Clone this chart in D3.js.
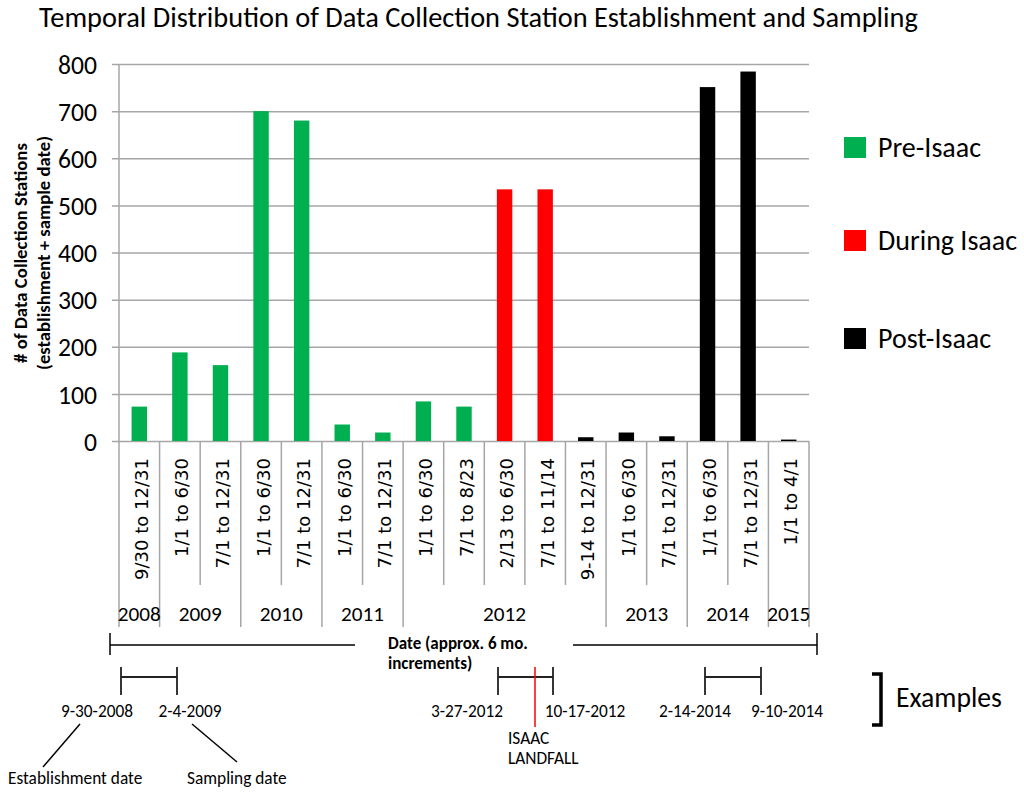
<!DOCTYPE html>
<html>
<head>
<meta charset="utf-8">
<script src="https://cdn.jsdelivr.net/npm/d3@7"></script>
<style>
  body { margin: 0; background: #fff; }
  svg { display: block; }
</style>
</head>
<body>
<svg id="chart" width="1024" height="794"></svg>
<script>
// ---------- data ----------
const categories = [
  "9/30 to 12/31", "1/1 to 6/30", "7/1 to 12/31", "1/1 to 6/30", "7/1 to 12/31",
  "1/1 to 6/30", "7/1 to 12/31", "1/1 to 6/30", "7/1 to 8/23", "2/13 to 6/30",
  "7/1 to 11/14", "9-14 to 12/31", "1/1 to 6/30", "7/1 to 12/31", "1/1 to 6/30",
  "7/1 to 12/31", "1/1 to 4/1"
];
const stations = [73, 188, 161, 700, 680, 35, 18, 84, 73, 534, 534, 8, 18, 10, 751, 784, 3];
const periodOf = [
  "Pre-Isaac", "Pre-Isaac", "Pre-Isaac", "Pre-Isaac", "Pre-Isaac", "Pre-Isaac",
  "Pre-Isaac", "Pre-Isaac", "Pre-Isaac", "During Isaac", "During Isaac",
  "Post-Isaac", "Post-Isaac", "Post-Isaac", "Post-Isaac", "Post-Isaac", "Post-Isaac"
];
// year groups: first and last category index (end exclusive)
const yearLabels = ["2008", "2009", "2010", "2011", "2012", "2013", "2014", "2015"];
const yearStart  = [0, 1, 3, 5, 7, 12, 14, 16];
const yearEnd    = [1, 3, 5, 7, 12, 14, 16, 17];
const yTicks = [0, 100, 200, 300, 400, 500, 600, 700, 800];
const legendLabels = ["Pre-Isaac", "During Isaac", "Post-Isaac"];
const legendColors = ["#00b050", "#ff0000", "#000000"];
const exampleDates = [["9-30-2008", "2-4-2009"], ["3-27-2012", "10-17-2012"], ["2-14-2014", "9-10-2014"]];

const titleText = "Temporal Distribution of Data Collection Station Establishment and Sampling";
const yTitle = ["# of Data Collection Stations", "(establishment + sample date)"];
const xTitle = ["Date (approx. 6 mo.", "increments)"];

// ---------- setup ----------
const svg = d3.select("#chart");
const CAL = "Carlito, Calibri, Lato, 'Open Sans', sans-serif";
const GRID = "#a6a6a6";

// scale a text's font-size so its width hits a target (Calibri stand-in)
function fitWidth(sel, target) {
  const w = sel.node().getComputedTextLength();
  const fs = parseFloat(sel.attr("font-size"));
  if (w > 0) sel.attr("font-size", (fs * target / w).toFixed(2));
  return parseFloat(sel.attr("font-size"));
}

const plot = { left: 119, right: 809, top: 64, bottom: 441 };

const x = d3.scaleBand()
  .domain(d3.range(categories.length))
  .range([plot.left, plot.right])
  .paddingInner(0.62)
  .paddingOuter(0.31);
const step = x.step();
const edge = (i) => plot.left + i * step;

const y = d3.scaleLinear().domain([0, 800]).range([plot.bottom, plot.top]);

const color = d3.scaleOrdinal().domain(legendLabels).range(legendColors);

// ---------- title ----------
const title = svg.append("text")
  .attr("x", 39).attr("y", 27)
  .attr("font-family", CAL).attr("font-size", 24)
  .attr("fill", "#000")
  .text(titleText);
fitWidth(title, 879);

// ---------- gridlines + y axis ----------
const yAxis = d3.axisLeft(y)
  .tickValues(yTicks)
  .tickSize(plot.right - plot.left + 7)
  .tickFormat(d3.format("d"));

const gy = svg.append("g")
  .attr("transform", `translate(${plot.right},0)`)
  .call(yAxis);
gy.select(".domain").remove();
gy.selectAll(".tick line").attr("stroke", GRID).attr("stroke-width", 1.5);
gy.selectAll(".tick text")
  .attr("x", -(plot.right - 97))
  .attr("dy", "0.36em")
  .attr("font-family", CAL)
  .attr("font-size", 23)
  .attr("fill", "#000");
const tickSize = fitWidth(gy.selectAll(".tick text").filter(d => d === 800), 39);
gy.selectAll(".tick text").attr("font-size", tickSize);

svg.append("line")
  .attr("x1", plot.left).attr("x2", plot.left)
  .attr("y1", plot.top).attr("y2", plot.bottom)
  .attr("stroke", GRID).attr("stroke-width", 1.5);

// ---------- bars ----------
svg.append("g").selectAll("rect")
  .data(stations)
  .join("rect")
  .attr("x", (d, i) => x(i))
  .attr("width", x.bandwidth())
  .attr("y", d => y(d))
  .attr("height", d => y(0) - y(d))
  .attr("fill", (d, i) => color(periodOf[i]));

// ---------- category axis (two levels) ----------
const isYearEdge = new Set([...yearStart, ...yearEnd]);
svg.append("g").selectAll("line")
  .data(d3.range(categories.length + 1))
  .join("line")
  .attr("x1", i => edge(i)).attr("x2", i => edge(i))
  .attr("y1", plot.bottom)
  .attr("y2", i => isYearEdge.has(i) ? 627 : 585)
  .attr("stroke", GRID).attr("stroke-width", 1.5);

const catText = svg.append("g").selectAll("text")
  .data(categories)
  .join("text")
  .attr("transform", (d, i) => `translate(${x(i) + x.bandwidth() / 2 + 2},458) rotate(-90)`)
  .attr("dy", "0.36em")
  .attr("text-anchor", "end")
  .attr("font-family", "'DejaVu Sans', Verdana, sans-serif")
  .attr("font-size", 16)
  .attr("fill", "#000")
  .text(d => d);
const catSize = fitWidth(catText.filter((d, i) => i === 0), 122);
catText.attr("font-size", catSize);

const yearText = svg.append("g").selectAll("text")
  .data(yearLabels)
  .join("text")
  .attr("x", (d, i) => (edge(yearStart[i]) + edge(yearEnd[i])) / 2)
  .attr("y", 613)
  .attr("dy", "0.36em")
  .attr("text-anchor", "middle")
  .attr("font-family", CAL)
  .attr("font-size", 20)
  .attr("fill", "#000")
  .text(d => d);
const yearSize = fitWidth(yearText.filter(d => d === "2012"), 43);
yearText.attr("font-size", yearSize);

// ---------- y title ----------
const yt = svg.append("g").attr("font-family", CAL).attr("font-weight", "bold").attr("fill", "#000");
[20, 43].forEach((cx, k) => {
  const t = yt.append("text")
    .attr("transform", `translate(${cx},253) rotate(-90)`)
    .attr("dy", "0.36em")
    .attr("text-anchor", "middle")
    .attr("font-size", 15)
    .text(yTitle[k]);
  fitWidth(t, k === 0 ? 220 : 234);
});

// ---------- legend ----------
const legend = svg.append("g");
const legendY = [147, 240, 338];
legendLabels.forEach((lab, i) => {
  legend.append("rect")
    .attr("x", 844).attr("y", legendY[i] - 10)
    .attr("width", 22).attr("height", 21)
    .attr("fill", legendColors[i]);
  const t = legend.append("text")
    .attr("x", 878).attr("y", legendY[i])
    .attr("dy", "0.36em")
    .attr("font-family", CAL).attr("font-size", 26)
    .attr("fill", "#000")
    .text(lab);
  if (i === 1) fitWidth(t, 139);
});
const legSize = legend.selectAll("text").filter((d, i) => i === 1).attr("font-size");
legend.selectAll("text").attr("font-size", legSize);

// ---------- date range bar ----------
const ann = svg.append("g").attr("stroke", "#000").attr("stroke-width", 1.5).attr("fill", "none");
ann.append("line").attr("x1", 110).attr("x2", 355).attr("y1", 645).attr("y2", 645);
ann.append("line").attr("x1", 573).attr("x2", 817).attr("y1", 645).attr("y2", 645);
ann.append("line").attr("x1", 110).attr("x2", 110).attr("y1", 633).attr("y2", 655);
ann.append("line").attr("x1", 817).attr("x2", 817).attr("y1", 633).attr("y2", 655);

const xt = svg.append("g").attr("font-family", CAL).attr("font-weight", "bold").attr("fill", "#000");
const xt0 = xt.append("text").attr("x", 388).attr("y", 643).attr("dy", "0.36em")
  .attr("font-size", 15).text(xTitle[0]);
const xtSize = fitWidth(xt0, 140);
xt.append("text").attr("x", 388).attr("y", 663).attr("dy", "0.36em")
  .attr("font-size", xtSize).text(xTitle[1]);

// ---------- examples ----------
const exLeft  = [121, 498, 705];
const exRight = [177, 553, 761];
const exLabelX = [[97, 190], [467, 585], [695, 787]];
const ex = svg.append("g");
let exSize = 16;
exampleDates.forEach((pair, i) => {
  ex.append("path")
    .attr("d", `M${exLeft[i]},667V695M${exLeft[i]},677H${exRight[i]}M${exRight[i]},667V695`)
    .attr("stroke", "#222").attr("stroke-width", 1.8).attr("fill", "none");
  pair.forEach((lab, k) => {
    const t = ex.append("text")
      .attr("x", exLabelX[i][k]).attr("y", 711)
      .attr("dy", "0.36em")
      .attr("text-anchor", "middle")
      .attr("font-family", CAL).attr("font-size", exSize)
      .attr("fill", "#000")
      .text(lab);
    if (i === 0 && k === 0) exSize = fitWidth(t, 72);
  });
});
ex.selectAll("text").attr("font-size", exSize);

// Isaac landfall marker
ex.append("line")
  .attr("x1", 535).attr("x2", 535).attr("y1", 667).attr("y2", 727)
  .attr("stroke", "#ff0000").attr("stroke-width", 1.5);
ex.append("text").attr("x", 508).attr("y", 738).attr("dy", "0.36em")
  .attr("font-family", CAL).attr("font-size", exSize).attr("fill", "#000").text("ISAAC");
ex.append("text").attr("x", 508).attr("y", 758).attr("dy", "0.36em")
  .attr("font-family", CAL).attr("font-size", exSize).attr("fill", "#000").text("LANDFALL");

// leader lines
ex.append("line").attr("x1", 80).attr("y1", 724).attr("x2", 43).attr("y2", 767)
  .attr("stroke", "#000").attr("stroke-width", 1.5);
ex.append("line").attr("x1", 192).attr("y1", 724).attr("x2", 237).attr("y2", 762)
  .attr("stroke", "#000").attr("stroke-width", 1.5);
ex.append("text").attr("x", 8).attr("y", 778).attr("dy", "0.36em")
  .attr("font-family", CAL).attr("font-size", exSize).attr("fill", "#000").text("Establishment date");
ex.append("text").attr("x", 187).attr("y", 778).attr("dy", "0.36em")
  .attr("font-family", CAL).attr("font-size", exSize).attr("fill", "#000").text("Sampling date");

// "] Examples"
ex.append("path")
  .attr("d", "M872,674H881V725H872")
  .attr("stroke", "#000").attr("stroke-width", 3.5).attr("fill", "none");
const exT = ex.append("text").attr("x", 896).attr("y", 697).attr("dy", "0.36em")
  .attr("font-family", CAL).attr("font-size", 27).attr("fill", "#000").text("Examples");
fitWidth(exT, 106);
</script>
</body>
</html>
